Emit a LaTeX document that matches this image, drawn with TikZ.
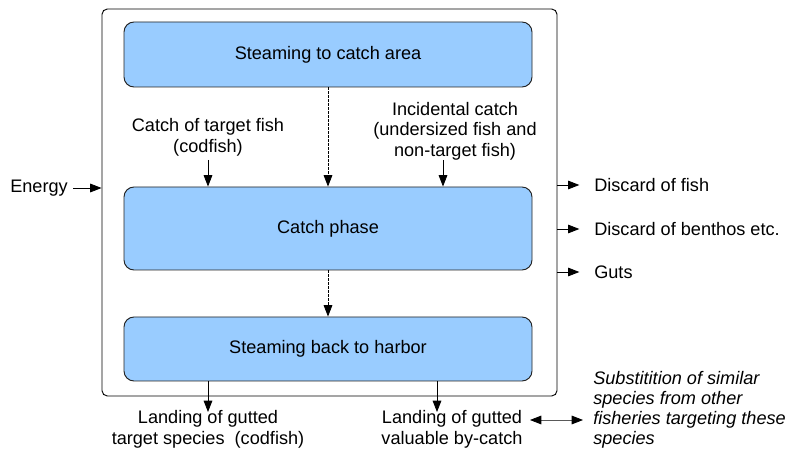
\documentclass[tikz,border=0pt]{standalone}
\usepackage{fontspec}
\setmainfont{Liberation Sans}
\usetikzlibrary{arrows.meta,calc}
\definecolor{boxblue}{HTML}{99CCFF}
\definecolor{boxline}{HTML}{222222}
\begin{document}
\begin{tikzpicture}[x=0.75pt,y=-0.75pt,
  every node/.style={font=\fontsize{13.6}{15.5}\selectfont},
  phase/.style={draw=boxline,fill=boxblue,rounded corners=7.5pt,line width=0.7pt,
    minimum width=306pt,inner sep=0pt},
  lbl/.style={inner sep=0pt,align=center},
  tip/.tip={Triangle[length=8.5pt,width=6.5pt]},
  btip/.tip={Triangle[length=8.5pt,width=6.5pt,color=black]},
  arr/.style={-tip,line width=0.6pt},
  dotarr/.style={arr,dash pattern=on 1.8pt off 1.2pt}]
\useasboundingbox (0,0) rectangle (790,456);
% outer frame
\node[draw=black,rounded corners=4pt,line width=0.7pt,minimum width=341.25pt,
  minimum height=290.25pt,inner sep=0pt] (outer) at (329.5,202.5) {};
% phases
\node[phase,minimum height=48.75pt] (box1) at (328,54.5) {Steaming to catch area};
\node[phase,minimum height=62.25pt] (box2) at (328,228.5) {Catch phase};
\node[phase,minimum height=48pt] (box3) at (328,349) {Steaming back to harbor};
\draw[dotarr] (box1.south) -- (box2.north);
\draw[dotarr] (box2.south) -- (box3.north);
% inputs
\node[lbl,anchor=east] (energy) at (68,188) {Energy};
\draw[arr] ([xshift=4]energy.east) -- (energy.east -| outer.west);
\node[lbl] (target) at (208,137) {Catch of target fish\\(codfish)};
\coordinate (ta) at (208,160);
\draw[arr] (ta) -- (ta |- box2.north);
\node[lbl] (incid) at (455,131) {Incidental catch\\(undersized fish and\\non-target fish)};
\coordinate (ia) at (443,160);
\draw[arr] (ia) -- (ia |- box2.north);
% outputs right
\node[lbl,anchor=west] (dfish) at (594,185) {Discard of fish};
\node[lbl,anchor=west] (dbenth) at (594,229) {Discard of benthos etc.};
\node[lbl,anchor=west] (guts) at (594,272) {Guts};
\foreach \n in {dfish,dbenth,guts}
  \draw[arr] (outer.east |- \n.west) -- ([xshift=-11]\n.west);
% landings
\node[lbl] (land1) at (208,429.5) {Landing of gutted\\target species\ \ (codfish)};
\node[lbl] (land2) at (452,429.5) {Landing of gutted\\valuable by-catch};
\coordinate (l1) at (208,381);
\coordinate (l2) at (437,381);
\draw[arr] (l1 |- box3.south) -- (208,412);
\draw[arr] (l2 |- box3.south) -- (437,412);
\node[lbl,align=left,anchor=west,font=\fontsize{13.6}{15}\itshape] (subst) at (593,410)
  {Substitition of similar\\species from other\\fisheries targeting these\\species};
\coordinate (da) at (530,420);
\coordinate (db) at (583,420);
\draw[btip-btip,line width=0.6pt,draw=black!65] (da) -- (db);
\end{tikzpicture}
\end{document}
